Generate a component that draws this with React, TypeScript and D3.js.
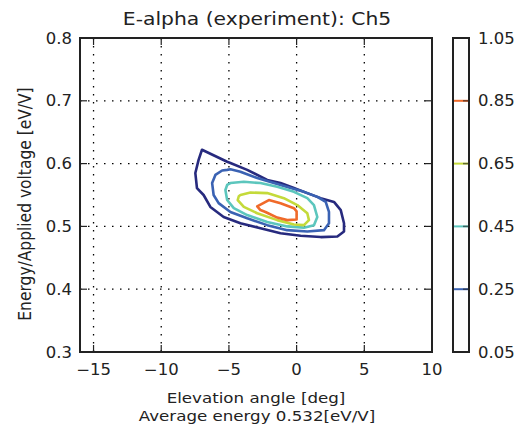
import React from "react";
import * as d3 from "d3";

const xTicks = [-15, -10, -5, 0, 5, 10];
const yTicks = [0.3, 0.4, 0.5, 0.6, 0.7, 0.8];
const cbTicks = [0.05, 0.25, 0.45, 0.65, 0.85, 1.05];
const levels = [0.05, 0.25, 0.45, 0.65, 0.85];
const levelColors = ["#272a7e", "#3a62b3", "#5cc6bd", "#c4da3a", "#f06a2a"];

const contour005: [number, number][] = [
  [-6.99, 0.622], [-5.13, 0.603], [-4.89, 0.601], [-3.65, 0.59], [-2.17, 0.574],
  [-1.19, 0.569], [-0.2, 0.561], [0.79, 0.553], [1.78, 0.545], [2.76, 0.539],
  [3.26, 0.526], [3.5, 0.505], [3.5, 0.492], [3.01, 0.484], [1.78, 0.483],
  [0.3, 0.485], [-1.19, 0.489], [-2.67, 0.497], [-4.15, 0.505], [-5.39, 0.515],
  [-6.37, 0.531], [-6.87, 0.55], [-7.36, 0.561], [-7.48, 0.585], [-7.24, 0.606],
];
const contour025: [number, number][] = [
  [-5.13, 0.59], [-4.89, 0.591], [-4.15, 0.587], [-2.91, 0.577], [-1.68, 0.569],
  [-0.44, 0.561], [0.54, 0.555], [1.53, 0.547], [2.15, 0.539], [2.39, 0.523],
  [2.39, 0.505], [2.02, 0.494], [0.79, 0.492], [-0.69, 0.494], [-2.17, 0.502],
  [-3.65, 0.513], [-4.89, 0.523], [-5.76, 0.537], [-6.13, 0.55], [-6.24, 0.569],
  [-6.0, 0.582], [-5.5, 0.589],
];
const contour045: [number, number][] = [
  [-4.89, 0.569], [-3.9, 0.571], [-2.67, 0.569], [-1.43, 0.563], [-0.2, 0.555],
  [0.79, 0.545], [1.28, 0.534], [1.53, 0.515], [1.28, 0.502], [0.54, 0.498],
  [-0.69, 0.5], [-2.17, 0.507], [-3.65, 0.518], [-4.64, 0.529], [-5.13, 0.542],
  [-5.26, 0.558], [-5.13, 0.566],
];
const contour065: [number, number][] = [
  [-4.15, 0.55], [-3.41, 0.554], [-2.17, 0.553], [-0.94, 0.545], [0.05, 0.534],
  [0.79, 0.521], [0.91, 0.51], [0.54, 0.502], [-0.2, 0.503], [-1.43, 0.51],
  [-2.91, 0.521], [-3.9, 0.531], [-4.35, 0.542], [-4.27, 0.548],
];
const contour085: [number, number][] = [
  [-2.91, 0.532], [-2.05, 0.542], [-1.19, 0.537], [-0.2, 0.529], [0.0, 0.524],
  [0.0, 0.511], [-0.69, 0.51], [-1.43, 0.514], [-2.3, 0.523], [-2.67, 0.526],
];
const contours = [contour005, contour025, contour045, contour065, contour085];

const W = 524, H = 430;
const L = 80, R = 432, T = 38, B = 352;
const CBL = 453, CBR = 469;
const font = "DejaVu Sans, sans-serif";
const ink = "#222";

function T_({ x, y, size, sx = 1.1, anchor = "start", children }: any) {
  return (
    <text
      transform={`translate(${x},${y}) scale(${sx},1)`}
      fontFamily={font}
      fontSize={size}
      textAnchor={anchor}
      fill={ink}
    >
      {children}
    </text>
  );
}

export default function App() {
  const x = d3.scaleLinear().domain([-16, 10]).range([L, R]);
  const y = d3.scaleLinear().domain([0.3, 0.8]).range([B, T]);
  const cb = d3.scaleLinear().domain([0.05, 1.05]).range([B, T]);
  const line = d3
    .line<[number, number]>()
    .x((d) => x(d[0]))
    .y((d) => y(d[1]))
    .curve(d3.curveLinearClosed);
  const tk = 7;
  return (
    <svg width={W} height={H} style={{ display: "block", position: "absolute", left: 0, top: 0 }}>
      <rect width={W} height={H} fill="#fff" />
      <T_ x={257} y={25} size={17.5} sx={1.16} anchor="middle">
        E-alpha (experiment): Ch5
      </T_>
      {/* grid */}
      {xTicks.map((t) => (
        <line key={"gx" + t} x1={x(t)} x2={x(t)} y1={T} y2={B} stroke="#000" strokeWidth={1.3} strokeDasharray="1.5,6.5" />
      ))}
      {yTicks.map((t) => (
        <line key={"gy" + t} x1={L} x2={R} y1={y(t)} y2={y(t)} stroke="#000" strokeWidth={1.3} strokeDasharray="1.5,6.5" />
      ))}
      {/* contours */}
      {contours.map((c, i) => (
        <path key={"c" + i} d={line(c) || ""} fill="none" stroke={levelColors[i]} strokeWidth={2.6} strokeLinejoin="round" />
      ))}
      {/* ticks */}
      {xTicks.map((t) => (
        <g key={"tx" + t}>
          <line x1={x(t)} x2={x(t)} y1={B} y2={B - tk} stroke={ink} strokeWidth={1.2} />
          <line x1={x(t)} x2={x(t)} y1={T} y2={T + tk} stroke={ink} strokeWidth={1.2} />
          <T_ x={x(t)} y={375} size={15} anchor="middle">
            {t < 0 ? "\u2212" + Math.abs(t) : String(t)}
          </T_>
        </g>
      ))}
      {yTicks.map((t) => (
        <g key={"ty" + t}>
          <line x1={L} x2={L + tk} y1={y(t)} y2={y(t)} stroke={ink} strokeWidth={1.2} />
          <line x1={R} x2={R - tk} y1={y(t)} y2={y(t)} stroke={ink} strokeWidth={1.2} />
          <T_ x={72} y={y(t) + 5.5} size={15} anchor="end">
            {t.toFixed(1)}
          </T_>
        </g>
      ))}
      <rect x={L} y={T} width={R - L} height={B - T} fill="none" stroke={ink} strokeWidth={2} />
      <T_ x={256} y={402.5} size={14.5} sx={1.15} anchor="middle">
        Elevation angle [deg]
      </T_>
      <T_ x={257} y={420.5} size={14.5} sx={1.15} anchor="middle">
        Average energy 0.532[eV/V]
      </T_>
      <text
        transform={`translate(31,204) rotate(-90) scale(1,1.12)`}
        fontFamily={font}
        fontSize={15.5}
        textAnchor="middle"
        fill={ink}
      >
        Energy/Applied voltage [eV/V]
      </text>
      {/* colorbar */}
      {levels.slice(1).map((lv, i) => (
        <g key={"cbl" + lv}>
          <line x1={CBL} x2={CBR} y1={cb(lv)} y2={cb(lv)} stroke={levelColors[i + 1]} strokeWidth={2} />
          <line x1={CBR - 6} x2={CBR} y1={cb(lv)} y2={cb(lv)} stroke={ink} strokeOpacity={0.6} strokeWidth={1.5} />
        </g>
      ))}
      <rect x={CBL} y={T} width={CBR - CBL} height={B - T} fill="none" stroke={ink} strokeWidth={2} />
      {cbTicks.map((t) => (
        <T_ key={"cbt" + t} x={478} y={cb(t) + 5.5} size={15}>
          {t.toFixed(2)}
        </T_>
      ))}
    </svg>
  );
}
